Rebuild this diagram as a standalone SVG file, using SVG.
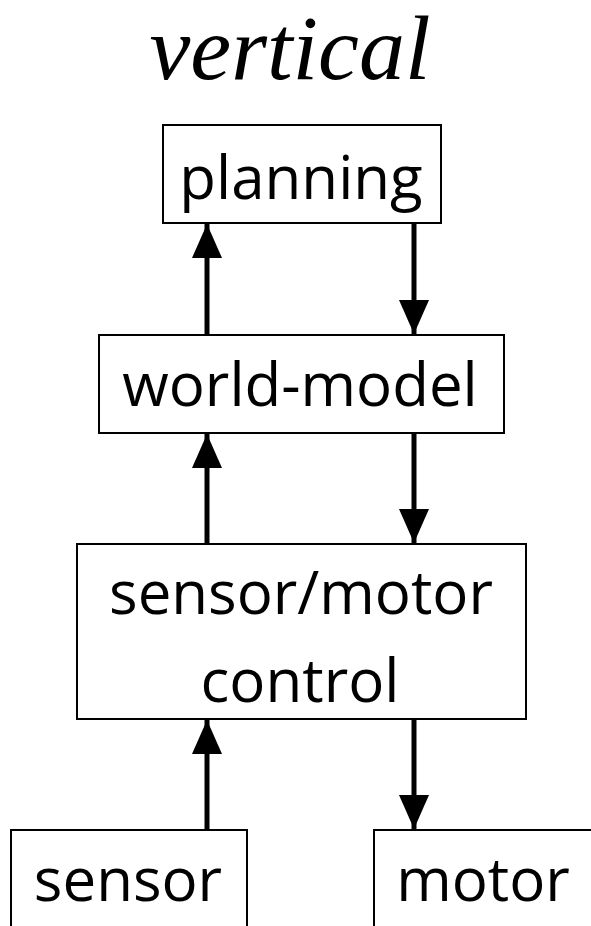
<svg xmlns="http://www.w3.org/2000/svg" width="591" height="926" viewBox="0 0 591 926">
<style>
.box{fill:#fff;stroke:#000;stroke-width:2}
.lbl{font-family:"Open Sans","DejaVu Sans",sans-serif;font-size:60px;fill:#000;text-anchor:middle}
.title{font-family:"Liberation Serif","Times New Roman",serif;font-style:italic;font-size:92px;fill:#000;text-anchor:middle}
.conn{stroke:#000;stroke-width:5;fill:none}
</style>
<defs>
<marker id="ah" markerUnits="userSpaceOnUse" markerWidth="34" markerHeight="32" viewBox="0 0 34 32" refX="34" refY="16" orient="auto">
<path d="M0,1 L34,16 L0,31 Z" fill="#000"/>
</marker>
</defs>
<rect width="591" height="926" fill="#fff"/>
<text class="title" x="290" y="79">vertical</text>
<g id="connectors">
<line class="conn" x1="207" y1="830" x2="207" y2="720" marker-end="url(#ah)"/>
<line class="conn" x1="207" y1="544" x2="207" y2="434" marker-end="url(#ah)"/>
<line class="conn" x1="207" y1="335" x2="207" y2="224" marker-end="url(#ah)"/>
<line class="conn" x1="414" y1="223" x2="414" y2="334" marker-end="url(#ah)"/>
<line class="conn" x1="414" y1="433" x2="414" y2="543" marker-end="url(#ah)"/>
<line class="conn" x1="414" y1="719" x2="414" y2="829" marker-end="url(#ah)"/>
</g>
<g id="planning">
<rect class="box" x="163" y="125" width="278" height="98"/>
<text class="lbl" x="301" y="199">planning</text>
</g>
<g id="world-model">
<rect class="box" x="99" y="335" width="405" height="98"/>
<text class="lbl" x="300" y="406">world-model</text>
</g>
<g id="sensor-motor-control">
<rect class="box" x="77" y="544" width="449" height="175"/>
<text class="lbl" x="301" y="614">sensor/motor</text>
<text class="lbl" x="300" y="702">control</text>
</g>
<g id="sensor">
<rect class="box" x="11" y="830" width="236" height="110"/>
<text class="lbl" x="128" y="901">sensor</text>
</g>
<g id="motor">
<rect class="box" x="374" y="830" width="230" height="110"/>
<text class="lbl" x="483" y="901">motor</text>
</g>
</svg>
